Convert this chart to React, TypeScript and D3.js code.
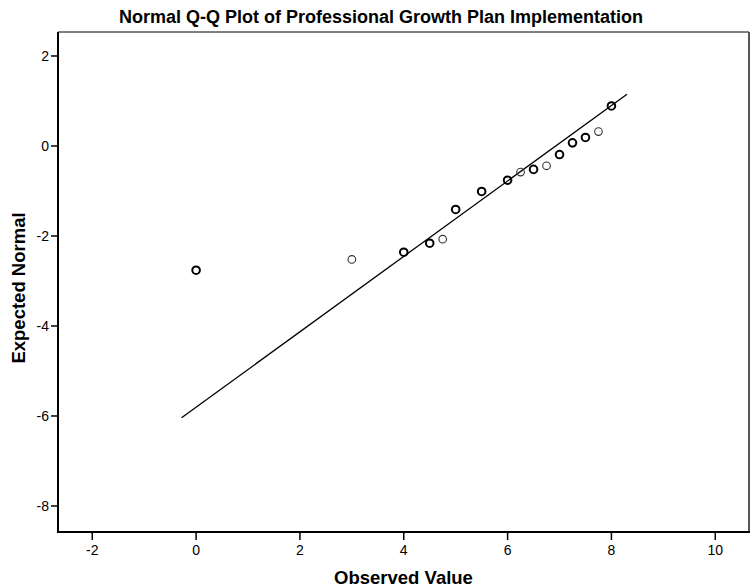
import React from "react";
import * as d3 from "d3";

const title = "Normal Q-Q Plot of Professional Growth Plan Implementation";
const xLabel = "Observed Value";
const yLabel = "Expected Normal";

const observed = [0, 3, 4, 4.5, 4.75, 5, 5.5, 6, 6.25, 6.5, 6.75, 7, 7.25, 7.5, 7.75, 8];
const expected = [-2.76, -2.52, -2.36, -2.16, -2.07, -1.41, -1.01, -0.76, -0.58, -0.52, -0.44, -0.19, 0.07, 0.19, 0.32, 0.89];
const overlap = [2, 1, 2, 2, 1, 2, 2, 2, 1, 2, 1, 2, 2, 2, 1, 2];

const lineX = [-0.28, 8.3];
const lineY = [-6.04, 1.15];

const xTicks = [-2, 0, 2, 4, 6, 8, 10];
const yTicks = [2, 0, -2, -4, -6, -8];

const W = 754;
const H = 588;
const left = 58;
const right = 749;
const top = 32;
const bottom = 532;

export default function App() {
  const x = d3.scaleLinear().domain([-2.66, 10.65]).range([left, right]);
  const y = d3.scaleLinear().domain([-8.578, 2.533]).range([bottom, top]);
  const line = d3
    .line<number>()
    .x((_, i) => x(lineX[i]))
    .y((_, i) => y(lineY[i]));
  const font = "Arial, 'Liberation Sans', Helvetica, sans-serif";
  return (
    <svg
      width={W}
      height={H}
      style={{ position: "absolute", left: 0, top: 0, background: "#fff" }}
      fontFamily={font}
    >
      <rect x={0} y={0} width={W} height={H} fill="#fff" />
      <text x={381} y={23} textAnchor="middle" fontSize={18} fontWeight="bold" fill="#000">
        {title}
      </text>
      {/* frame */}
      <line x1={left} x2={right} y1={top} y2={top} stroke="#000" strokeWidth={1} />
      <line x1={right} x2={right} y1={top} y2={bottom} stroke="#555" strokeWidth={2} />
      <line x1={left} x2={left} y1={top} y2={bottom + 1} stroke="#000" strokeWidth={2} />
      <line x1={left - 1} x2={right + 1} y1={bottom} y2={bottom} stroke="#000" strokeWidth={2} />
      {/* y ticks */}
      {yTicks.map((t) => (
        <g key={"y" + t}>
          <line x1={left - 7} x2={left} y1={y(t)} y2={y(t)} stroke="#000" strokeWidth={1.5} />
          <text x={left - 9} y={y(t)} dy="0.36em" textAnchor="end" fontSize={14} fill="#000">
            {t}
          </text>
        </g>
      ))}
      {/* x ticks */}
      {xTicks.map((t) => (
        <g key={"x" + t}>
          <line x1={x(t)} x2={x(t)} y1={bottom} y2={bottom + 8} stroke="#000" strokeWidth={1.5} />
          <text x={x(t)} y={bottom + 23} textAnchor="middle" fontSize={14} fill="#000">
            {t}
          </text>
        </g>
      ))}
      <text x={(left + right) / 2} y={584} textAnchor="middle" fontSize={18.5} fontWeight="bold" fill="#000">
        {xLabel}
      </text>
      <text
        transform={`translate(25,${(top + bottom) / 2 + 6}) rotate(-90)`}
        textAnchor="middle"
        fontSize={18.5}
        fontWeight="bold"
        fill="#000"
      >
        {yLabel}
      </text>
      {/* reference line */}
      <path d={line(lineX) || ""} fill="none" stroke="#000" strokeWidth={1.3} />
      {/* points */}
      {observed.map((v, i) => (
        <circle
          key={i}
          cx={x(v)}
          cy={y(expected[i])}
          r={3.8}
          fill="none"
          stroke={overlap[i] > 1 ? "#000" : "#333"}
          strokeWidth={overlap[i] > 1 ? 2 : 1.1}
        />
      ))}
    </svg>
  );
}
